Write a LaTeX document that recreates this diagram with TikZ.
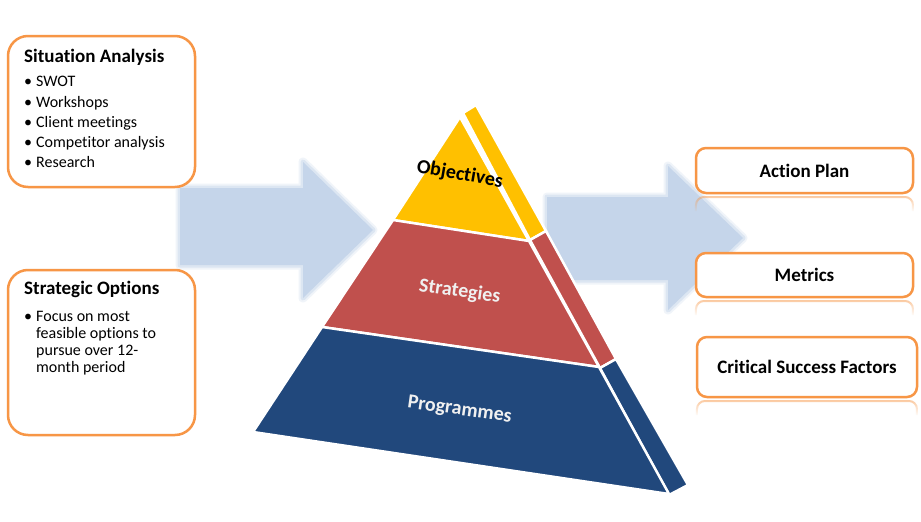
\documentclass[tikz,border=0pt]{standalone}
\usepackage{fontspec}
\setmainfont{Carlito}[Ligatures=NoCommon]
\usetikzlibrary{fadings}
\definecolor{boxorange}{RGB}{247,150,70}
\definecolor{arrowblue}{RGB}{197,213,234}
\definecolor{pyrY}{RGB}{255,192,0}
\definecolor{pyrR}{RGB}{192,80,77}
\definecolor{pyrB}{RGB}{33,72,124}
\begin{document}
\begin{tikzpicture}[x=1pt,y=-1pt,
  softarrow/.style={fill=arrowblue,
    preaction={draw=arrowblue,line width=9pt,opacity=0.25,line join=round},
    preaction={draw=arrowblue,line width=5pt,opacity=0.45,line join=round}},
  lbox/.style={draw=boxorange,line width=2.5pt,rounded corners=20pt,fill=white,inner sep=0pt},
  rbox/.style={draw=boxorange,line width=2.5pt,rounded corners=10pt,fill=white,inner sep=0pt,
    font=\bfseries\fontsize{19}{22}\selectfont},
  refl/.style={draw=boxorange,line width=2pt,rounded corners=8pt,path fading=south,opacity=0.5},
  layer/.style={draw=white,line width=2.5pt,line join=miter},
  title/.style={anchor=base west,inner sep=0pt,font=\bfseries\fontsize{19}{22}\selectfont},
  plabel/.style={anchor=base,inner sep=0pt,font=\bfseries\fontsize{20}{24}\selectfont}]
\useasboundingbox (0,0) rectangle (921,522);
\fill[white] (0,0) rectangle (921,522);

% background arrows
\path[softarrow] (180,188) -- (303,188) -- (303,162) -- (373,230) -- (303,298) -- (303,265) -- (180,265) -- cycle;
\path[softarrow] (547,197) -- (668,197) -- (668,166) -- (743,238) -- (668,310) -- (668,280) -- (547,280) -- cycle;

% pyramid side strip
\filldraw[layer,fill=pyrY] (463,113) -- (476,105) -- (546,231) -- (530,240) -- cycle;
\filldraw[layer,fill=pyrR] (530,240) -- (546,231) -- (616,359) -- (600,368) -- cycle;
\filldraw[layer,fill=pyrB] (600,368) -- (616,359) -- (688,485) -- (669,495) -- cycle;
% pyramid front
\filldraw[layer,fill=pyrY] (460,117) -- (393,220) -- (529,241) -- cycle;
\filldraw[layer,fill=pyrR] (393,220) -- (529,241) -- (599,367) -- (322,327) -- cycle;
\filldraw[layer,fill=pyrB] (322,327) -- (599,367) -- (669,494) -- (253,432) -- cycle;

\node[plabel,rotate=-10,text=black] (obj) at (459,180) {Objectives};
\node[plabel,rotate=-8,text=white!94!black] (str) at (459,297) {Strategies};
\node[plabel,rotate=-8,text=white!94!black] (prg) at (459,415) {Programmes};

% left boxes
\node[lbox,minimum width=187pt,minimum height=151pt] (sabox) at (101.5,111.5) {};
\node[title] (satitle) at (24,62) {Situation Analysis};
\node[anchor=base west,inner sep=0pt,font=\fontsize{16}{20.3}\selectfont] (salist) at (24,86.7)
  {\begin{tabular}[t]{@{}l@{}l@{}}
   \makebox[12pt][l]{\textbullet} & SWOT\\
   \makebox[12pt][l]{\textbullet} & Workshops\\
   \makebox[12pt][l]{\textbullet} & Client meetings\\
   \makebox[12pt][l]{\textbullet} & Competitor analysis\\
   \makebox[12pt][l]{\textbullet} & Research
   \end{tabular}};

\node[lbox,minimum width=187pt,minimum height=165pt] (sobox) at (101.5,352.5) {};
\node[title] (sotitle) at (24,294.5) {Strategic Options};
\node[anchor=base west,inner sep=0pt,font=\fontsize{16}{17}\selectfont] (solist) at (24,321)
  {\begin{tabular}[t]{@{}l@{}l@{}}
   \makebox[12pt][l]{\textbullet} & Focus on most\\
   & feasible options to\\
   & pursue over 12-\\
   & month period
   \end{tabular}};

% right boxes with reflections
\draw[refl] (696,211) -- (696,197) -- (913,197) -- (913,211);
\draw[refl] (696,315) -- (696,301) -- (913,301) -- (913,315);
\draw[refl] (697,415) -- (697,401) -- (917,401) -- (917,415);
\node[rbox,minimum width=217pt,minimum height=45pt] (ap) at (804.5,170.5) {Action Plan};
\node[rbox,minimum width=217pt,minimum height=44pt] (met) at (804.5,275) {Metrics};
\node[rbox,minimum width=220pt,minimum height=60pt] (csf) at (807,367) {Critical Success Factors};
\end{tikzpicture}
\end{document}
